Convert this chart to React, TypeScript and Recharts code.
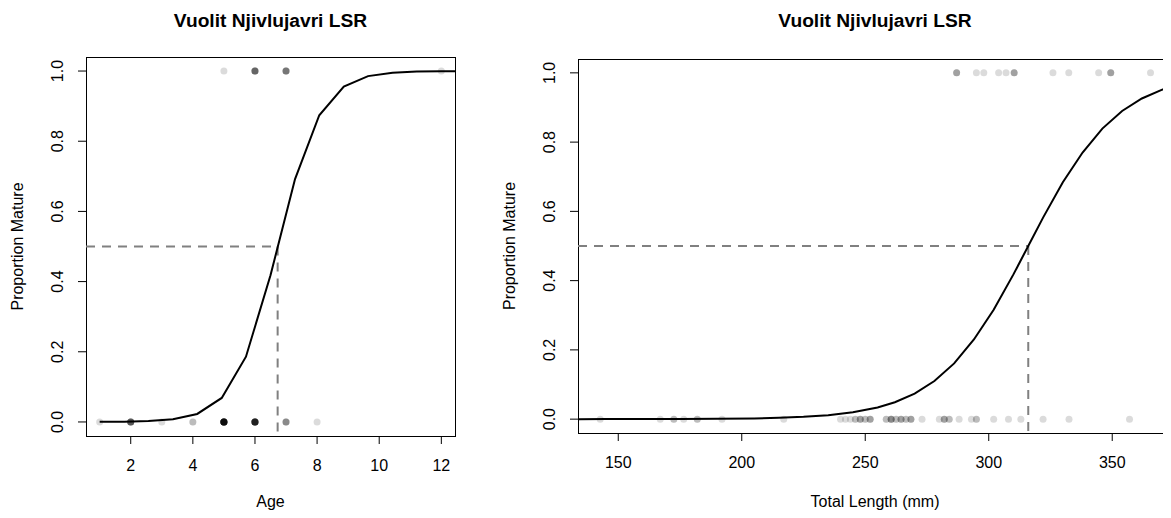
import React from "react";
import { ComposedChart, ReferenceArea, ReferenceLine, Scatter, XAxis, YAxis } from "recharts";

const FONT = "'Liberation Sans', Arial, sans-serif";
const TITLE = "Vuolit Njivlujavri LSR";

// age panel: observed fish, counts of overlapping points at each age
const ageImmature = [1, 2, 3, 4, 5, 6, 7, 8];
const ageImmatureN = [1, 7, 1, 2, 18, 13, 4, 1];
const ageMature = [5, 6, 7, 12];
const ageMatureN = [1, 6, 5, 1];
// fitted curve
const ageCurveX = [1, 1.79, 2.57, 3.36, 4.14, 4.93, 5.71, 6.5, 7.29, 8.07, 8.86, 9.64, 10.43, 11.21, 12, 12.44];
const ageCurveP = [0.0003, 0.0008, 0.0024, 0.0075, 0.0228, 0.0685, 0.186, 0.418, 0.692, 0.874, 0.956, 0.9855, 0.9954, 0.9985, 0.9995, 0.9997];
const ageTicks = [2, 4, 6, 8, 10, 12];
const ageDomain = [0.56, 12.44];
const age50 = 6.73;

// length panel
const lenImmature = [142.7, 167, 172.5, 176.5, 182, 192, 217, 240, 242, 244, 246, 248, 250, 252, 258.5, 260.5, 262.5, 264.5, 266.5, 268.5, 273, 280, 282, 284, 288, 293, 295, 302, 308, 313, 322, 332.5, 357];
const lenImmatureN = [1, 1, 2, 1, 2, 1, 1, 1, 1, 1, 2, 3, 2, 3, 2, 4, 2, 3, 2, 3, 1, 1, 3, 2, 1, 1, 2, 1, 1, 1, 1, 1, 1];
const lenMature = [287, 295, 298, 304, 307, 310.3, 326, 332.4, 344.5, 349.4, 365.5];
const lenMatureN = [3, 1, 1, 1, 1, 3, 1, 1, 1, 3, 1];
const lenCurveX = [133.7, 145, 160, 175, 190, 205, 215, 225, 235, 245, 255, 262, 270, 278, 286, 294, 302, 310, 316, 322, 330, 338, 346, 354, 362, 370, 374.2];
const lenCurveP = [0.00004, 0.00008, 0.00019, 0.00043, 0.001, 0.0022, 0.0039, 0.0067, 0.0115, 0.0197, 0.0337, 0.0488, 0.0737, 0.11, 0.161, 0.23, 0.316, 0.418, 0.5, 0.582, 0.684, 0.77, 0.839, 0.89, 0.926, 0.951, 0.961];
const lenTicks = [150, 200, 250, 300, 350];
const lenDomain = [133.7, 374.2];
const len50 = 316;

const propTicks = [0, 0.2, 0.4, 0.6, 0.8, 1];
const propDomain = [-0.04, 1.04];

const expand = (xs: number[], ns: number[], y: number) =>
  xs.flatMap((x, i) => Array.from({ length: ns[i] }, () => ({ x, y })));

const dot = (p: any) => <circle cx={p.cx} cy={p.cy} r={3.5} fill="#000" fillOpacity={0.14} />;
const noDot = () => <g />;

const XTick = (p: any) => (
  <text x={p.x} y={p.y} dy="0.71em" textAnchor="middle" fontSize={16} fontFamily={FONT} fill="#000">
    {p.payload.value}
  </text>
);

const YTick = (p: any) => (
  <text
    x={p.x}
    y={p.y}
    transform={`rotate(-90 ${p.x} ${p.y})`}
    textAnchor="middle"
    fontSize={16}
    fontFamily={FONT}
    fill="#000"
  >
    {p.payload.value.toFixed(1)}
  </text>
);

function Panel({
  width,
  margin,
  domain,
  ticks,
  imm,
  mat,
  curve,
  x50,
}: {
  width: number;
  margin: { top: number; right: number; bottom: number; left: number };
  domain: number[];
  ticks: number[];
  imm: { x: number; y: number }[];
  mat: { x: number; y: number }[];
  curve: { x: number; y: number }[];
  x50: number;
}) {
  return (
    <ComposedChart width={width} height={518} margin={margin}>
      <XAxis
        type="number"
        dataKey="x"
        domain={domain}
        ticks={ticks}
        allowDataOverflow
        height={40}
        axisLine={false}
        tickLine={{ stroke: "#000" }}
        tickSize={8}
        tickMargin={16}
        tick={XTick}
        interval={0}
      />
      <YAxis
        type="number"
        dataKey="y"
        domain={propDomain}
        ticks={propTicks}
        allowDataOverflow
        width={40}
        axisLine={false}
        tickLine={{ stroke: "#000" }}
        tickSize={8}
        tickMargin={15}
        tick={YTick}
        interval={0}
      />
      <ReferenceArea
        x1={domain[0]}
        x2={domain[1]}
        y1={propDomain[0]}
        y2={propDomain[1]}
        fill="none"
        stroke="#000"
        strokeWidth={1}
        shapeRendering="crispEdges"
      />
      <ReferenceLine
        segment={[{ x: domain[0], y: 0.5 }, { x: x50, y: 0.5 }]}
        stroke="#808080"
        strokeWidth={2}
        strokeDasharray="9 7"
      />
      <ReferenceLine
        segment={[{ x: x50, y: 0.5 }, { x: x50, y: propDomain[0] }]}
        stroke="#808080"
        strokeWidth={2}
        strokeDasharray="9 7"
      />
      <Scatter data={imm} shape={dot} isAnimationActive={false} />
      <Scatter data={mat} shape={dot} isAnimationActive={false} />
      <Scatter data={curve} shape={noDot} line={{ stroke: "#000", strokeWidth: 2 }} isAnimationActive={false} />
    </ComposedChart>
  );
}

export default function App() {
  const ageCurve = ageCurveX.map((x, i) => ({ x, y: ageCurveP[i] }));
  const lenCurve = lenCurveX.map((x, i) => ({ x, y: lenCurveP[i] }));
  const txt = { fontFamily: FONT, fill: "#000" };
  return (
    <div style={{ position: "relative", width: 1171, height: 518, margin: -8, overflow: "hidden", background: "#fff" }}>
      <div style={{ position: "absolute", left: 0, top: 0 }}>
        <Panel
          width={470}
          margin={{ top: 57, right: 15, bottom: 42, left: 46 }}
          domain={ageDomain}
          ticks={ageTicks}
          imm={expand(ageImmature, ageImmatureN, 0)}
          mat={expand(ageMature, ageMatureN, 1)}
          curve={ageCurve}
          x50={age50}
        />
      </div>
      <div style={{ position: "absolute", left: 490, top: 0 }}>
        <Panel
          width={697}
          margin={{ top: 59, right: 15, bottom: 45, left: 48 }}
          domain={lenDomain}
          ticks={lenTicks}
          imm={expand(lenImmature, lenImmatureN, 0)}
          mat={expand(lenMature, lenMatureN, 1)}
          curve={lenCurve}
          x50={len50}
        />
      </div>
      <svg width={1171} height={518} style={{ position: "absolute", left: 0, top: 0, pointerEvents: "none" }}>
        <text x={270.5} y={26.5} textAnchor="middle" fontSize={19.2} fontWeight="bold" {...txt}>
          {TITLE}
        </text>
        <text x={875} y={26.5} textAnchor="middle" fontSize={19.2} fontWeight="bold" {...txt}>
          {TITLE}
        </text>
        <text x={270.5} y={507} textAnchor="middle" fontSize={16} {...txt}>
          Age
        </text>
        <text x={875} y={507} textAnchor="middle" fontSize={16} {...txt}>
          Total Length (mm)
        </text>
        <text x={23} y={246.5} transform="rotate(-90 23 246.5)" textAnchor="middle" fontSize={16} {...txt}>
          Proportion Mature
        </text>
        <text x={515} y={246} transform="rotate(-90 515 246)" textAnchor="middle" fontSize={16} {...txt}>
          Proportion Mature
        </text>
      </svg>
    </div>
  );
}
